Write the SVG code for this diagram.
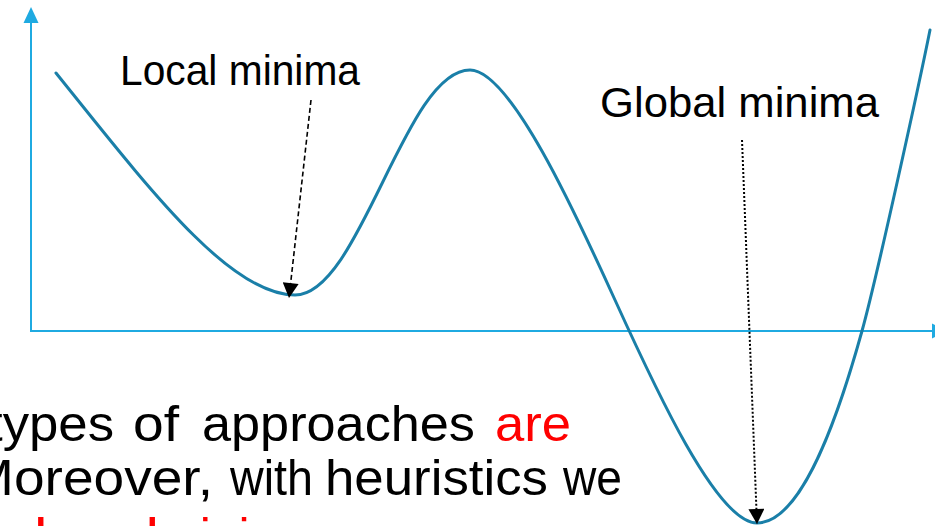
<svg xmlns="http://www.w3.org/2000/svg" width="935" height="526" viewBox="0 0 935 526">
  <style>
    .axis { stroke: #1FAAE1; stroke-width: 2; fill: none; }
    .axis-head { fill: #1FAAE1; }
    .curve { stroke: #1A7FA8; stroke-width: 3; fill: none; stroke-linecap: round; }
    .label { font-family: "Liberation Sans", Arial, sans-serif; font-size: 42px; fill: #000; }
    .body { font-family: "Liberation Sans", Arial, sans-serif; font-size: 50px; fill: #000; }
    .red { fill: #FF0000; }
    .dash { stroke: #000; stroke-width: 1.6; fill: none; stroke-dasharray: 5 3; }
    .dot { stroke: #000; stroke-width: 2; fill: none; stroke-dasharray: 2 2; }
  </style>
  <defs>
    <marker id="arrow" markerUnits="userSpaceOnUse" markerWidth="16" markerHeight="16" viewBox="0 0 15 16" refX="15" refY="8" orient="auto">
      <path d="M0,0 L15,8 L0,16 Z" fill="#000"/>
    </marker>
  </defs>

  <g id="axes">
    <line class="axis" x1="31" y1="331" x2="31" y2="20"/>
    <path class="axis-head" d="M31,7 L38.5,23 L23.5,23 Z"/>
    <line class="axis" x1="30" y1="331" x2="933" y2="331"/>
    <path class="axis-head" d="M932,323.5 L946,331 L932,338.5 Z"/>
  </g>

  <g id="curve">
    <path class="curve" d="M56,73 C150,190 230,295 295,295 C360,295 405,70 470,70 C510,70 575,212 615,300 C655,388 717,523 757,523 C797,523 832,439 862,331 C877,277 920,80 930,30"/>
  </g>

  <g id="label-local">
    <text class="label" x="120" y="85" textLength="240" lengthAdjust="spacingAndGlyphs">Local minima</text>
  </g>
  <g id="label-global">
    <text class="label" x="600" y="117" textLength="279" lengthAdjust="spacingAndGlyphs">Global minima</text>
  </g>

  <g id="connectors">
    <line class="dash" x1="311" y1="100" x2="289" y2="298" marker-end="url(#arrow)"/>
    <line class="dot" x1="742" y1="140" x2="757" y2="524" marker-end="url(#arrow)"/>
  </g>

  <g id="body-text">
    <text class="body" y="441">
      <tspan x="-12" textLength="126" lengthAdjust="spacingAndGlyphs">types</tspan>
      <tspan x="133" textLength="46" lengthAdjust="spacingAndGlyphs">of</tspan>
      <tspan x="202" textLength="273" lengthAdjust="spacingAndGlyphs">approaches</tspan>
      <tspan x="495" class="red" textLength="76" lengthAdjust="spacingAndGlyphs">are</tspan>
    </text>
    <text class="body" y="495">
      <tspan x="-32" textLength="245" lengthAdjust="spacingAndGlyphs">Moreover,</tspan>
      <tspan x="230" textLength="83" lengthAdjust="spacingAndGlyphs">with</tspan>
      <tspan x="325" textLength="223" lengthAdjust="spacingAndGlyphs">heuristics</tspan>
      <tspan x="563" textLength="59" lengthAdjust="spacingAndGlyphs">we</tspan>
    </text>
    <text class="body red" y="553">
      <tspan x="34" textLength="125" lengthAdjust="spacingAndGlyphs">local</tspan>
      <tspan x="158">minima</tspan>
    </text>
  </g>
</svg>
